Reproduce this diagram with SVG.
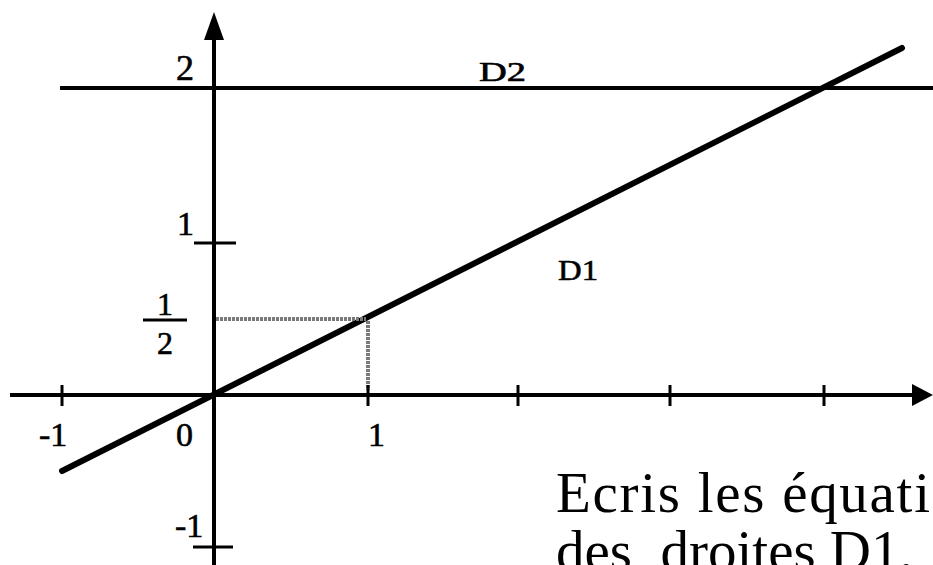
<svg xmlns="http://www.w3.org/2000/svg" width="933" height="565" viewBox="0 0 933 565">
<style>
.ax{stroke:#000;stroke-width:4;fill:none}
.tk{stroke:#000;stroke-width:3;fill:none}
.ln{stroke:#000;stroke-width:6;fill:none;stroke-linecap:round}
.dt{stroke:#7a7a7a;stroke-width:4;fill:none;stroke-dasharray:3 1}
.lb{font-family:"Liberation Serif","Times New Roman",serif;fill:#000}
.sm{stroke:#000;stroke-width:0.6}
</style>
<rect width="933" height="565" fill="#fff"/>
<g id="connectors">
<line class="ax" x1="10" y1="395" x2="914" y2="395"/>
<polygon points="912,384 933,395 912,406" fill="#000"/>
<line class="ax" x1="214" y1="38" x2="214" y2="565"/>
<polygon points="204,40 214,12 224,40" fill="#000"/>
<line class="ax" x1="60" y1="88" x2="933" y2="88"/>
<line class="ln" x1="62" y1="471" x2="902" y2="48"/>
<line class="dt" x1="216" y1="319" x2="366" y2="319"/>
<line class="dt" x1="368" y1="321" x2="368" y2="390"/>
<g id="ticks">
<line class="tk" x1="62" y1="385" x2="62" y2="406"/>
<line class="tk" x1="368" y1="385" x2="368" y2="406"/>
<line class="tk" x1="518" y1="385" x2="518" y2="406"/>
<line class="tk" x1="670" y1="385" x2="670" y2="406"/>
<line class="tk" x1="824" y1="385" x2="824" y2="406"/>
<line class="tk" x1="194" y1="243" x2="236" y2="243"/>
<line class="tk" x1="193" y1="547" x2="233" y2="547"/>
</g>
</g>
<g id="labels">
<text class="lb sm" x="176" y="80" font-size="36">2</text>
<text class="lb sm" x="177" y="235" font-size="34">1</text>
<text class="lb sm" x="165" y="315" font-size="32" text-anchor="middle">1</text>
<line class="tk" x1="143" y1="320" x2="187" y2="320"/>
<text class="lb sm" x="165" y="354" font-size="32" text-anchor="middle">2</text>
<text class="lb sm" x="39" y="446" font-size="34">-1</text>
<text class="lb sm" x="176" y="446" font-size="34">0</text>
<text class="lb sm" x="368" y="446" font-size="34">1</text>
<text class="lb sm" x="175" y="537" font-size="34">-1</text>
<text class="lb sm" x="479" y="81" font-size="27" textLength="47" lengthAdjust="spacingAndGlyphs">D2</text>
<text class="lb sm" x="558" y="280" font-size="30" textLength="40" lengthAdjust="spacingAndGlyphs">D1</text>
</g>
<g id="caption">
<text class="lb" x="556" y="512" font-size="57" textLength="374">Ecris les équati</text>
<text class="lb" x="556" y="570" font-size="57" xml:space="preserve">des  droites D1,</text>
</g>
</svg>
